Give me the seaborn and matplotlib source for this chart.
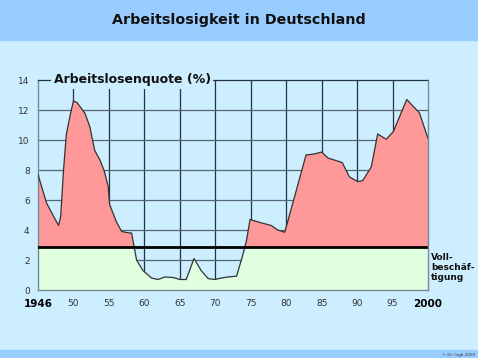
import numpy as np
import matplotlib
matplotlib.use("Agg")
import matplotlib.pyplot as plt
import seaborn as sns
from matplotlib.patches import Rectangle

# data (year position, unemployment rate in %)
years = [1945.0, 1946.2, 1947.1, 1947.9, 1948.2, 1948.6, 1949.0, 1949.6, 1950.0, 1950.5,
         1951.6, 1952.3, 1953.0, 1953.7, 1954.3, 1954.9, 1955.1, 1956.1, 1956.8, 1957.9,
         1958.2, 1958.9, 1959.8, 1961.0, 1961.9, 1962.9, 1964.1, 1965.0, 1965.9, 1967.0,
         1968.0, 1969.0, 1969.9, 1970.9, 1971.8, 1973.0, 1973.8, 1974.4, 1974.9, 1976.3,
         1977.9, 1978.8, 1979.8, 1982.8, 1984.0, 1985.0, 1985.9, 1987.9, 1988.9, 1990.1,
         1990.8, 1992.0, 1992.9, 1994.1, 1995.1, 1997.0, 1998.8, 2000.0]
quote = [7.7, 5.8, 5.0, 4.3, 4.9, 8.0, 10.4, 11.8, 12.6, 12.5,
         11.8, 10.9, 9.3, 8.7, 8.0, 6.9, 5.7, 4.5, 3.9, 3.8,
         3.8, 2.0, 1.3, 0.8, 0.7, 0.87, 0.83, 0.7, 0.7, 2.1,
         1.3, 0.76, 0.7, 0.8, 0.87, 0.92, 2.2, 3.3, 4.7, 4.5,
         4.3, 4.0, 3.85, 9.0, 9.07, 9.2, 8.8, 8.5, 7.55, 7.22,
         7.3, 8.2, 10.4, 10.05, 10.55, 12.7, 11.8, 10.1]
vollbeschaeftigung = 2.87

x_ticks = [1945, 1950, 1955, 1960, 1965, 1970, 1975, 1980, 1985, 1990, 1995, 2000]
x_labels = ["1946", "50", "55", "60", "65", "70", "75", "80", "85", "90", "95", "2000"]
y_ticks = [0, 2, 4, 6, 8, 10, 12, 14]

BG = "#cceeff"
BAND = "#99ccff"

sns.set_theme(style="white")
plt.rcParams["font.family"] = ["DejaVu Sans"]

fig = plt.figure(figsize=(4.78, 3.58), dpi=100, facecolor=BG)
fig.patches.append(Rectangle((0, 1 - 40 / 358), 1, 40 / 358, transform=fig.transFigure,
                             color=BAND, zorder=0))
fig.patches.append(Rectangle((0, 0), 1, 8 / 358, transform=fig.transFigure,
                             color=BAND, zorder=0))
fig.text(0.5, 1 - 20 / 358, "Arbeitslosigkeit in Deutschland", ha="center", va="center",
         fontsize=10.3, fontweight="bold", color="#111111")
fig.text(0.995, 0.004, "© Dr. Ingb 2000", ha="right", va="bottom", fontsize=3,
         color="#333333")

ax = fig.add_axes([38 / 478, 1 - 290 / 358, 390 / 478, 210 / 358])
ax.set_facecolor(BG)

x = np.array(years)
y = np.array(quote)
ax.fill_between(x, 0, np.minimum(y, vollbeschaeftigung), color="#e0ffe0", zorder=2, lw=0)
ax.fill_between(x, vollbeschaeftigung, y, where=y > vollbeschaeftigung, interpolate=True,
                color="#ff9999", zorder=2, lw=0)
sns.lineplot(x=x, y=y, ax=ax, color="#333333", lw=0.9, zorder=3, sort=False)
ax.axhline(vollbeschaeftigung, color="black", lw=2, zorder=4)

ax.set_xlim(1945, 2000)
ax.set_ylim(0, 14)
for xt in x_ticks[1:-1]:
    ax.axvline(xt, color="#223344", lw=0.9, zorder=1)
for yt in y_ticks[1:-1]:
    ax.axhline(yt, color="#556677", lw=0.9, zorder=1)

ax.set_xticks(x_ticks)
ax.set_xticklabels(x_labels)
ax.set_yticks(y_ticks)
ax.tick_params(axis="both", direction="inout", length=5, width=0.8, color="#445566",
               labelsize=6.5, labelcolor="#333333")
ax.tick_params(axis="x", pad=4)
for lbl in ax.get_xticklabels():
    if lbl.get_text() in ("1946", "2000"):
        lbl.set_fontweight("bold")
        lbl.set_fontsize(7.5)
        lbl.set_color("black")

for side in ["left", "bottom", "right"]:
    ax.spines[side].set_color("#778899")
    ax.spines[side].set_linewidth(1)
ax.spines["top"].set_color("#223344")
ax.spines["top"].set_linewidth(0.9)
ax.spines["right"].set_zorder(5)

ax.text(0.04, 1.0, "Arbeitslosenquote (%)", transform=ax.transAxes, ha="left", va="center",
        fontsize=9, fontweight="bold", color="#111111", zorder=6,
        bbox=dict(facecolor=BG, edgecolor="none", pad=1.5))
ax.text(1.008, 0.108, "Voll-\nbeschäf-\ntigung", transform=ax.transAxes, ha="left",
        va="center", fontsize=6.5, fontweight="bold", color="#111111", linespacing=1.1)

fig.savefig("out.png", dpi=100, facecolor=BG)
